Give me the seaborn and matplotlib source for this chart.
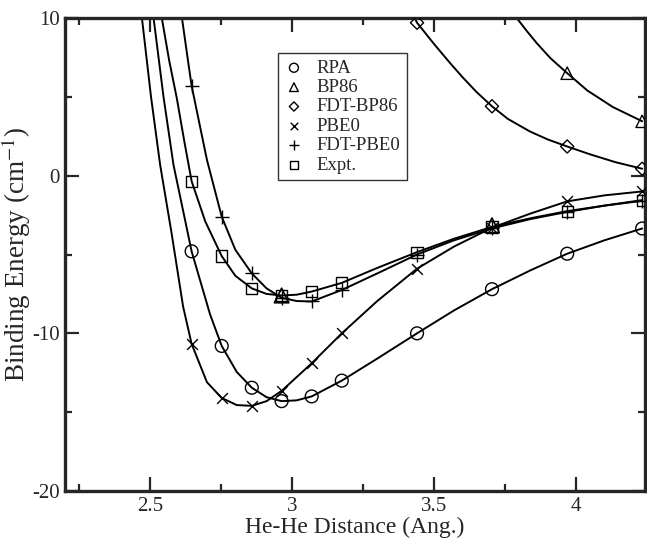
import numpy as np
import matplotlib
matplotlib.use('Agg')
import matplotlib.pyplot as plt
import seaborn as sns
from matplotlib.ticker import MultipleLocator

# He-He distances of the computed points (Ang.)
dist = [2.646, 2.752, 2.858, 2.963, 3.069, 3.175, 3.440, 3.704, 3.969, 4.233]

# Marker values (cm^-1)
rpa = [-4.8, -10.8, -13.45, -14.3, -14.0, -13.0, -10.0, -7.2, -4.95, -3.35]
pbe0 = [-10.67, -14.1, -14.6, -13.65, -11.9, -10.0, -5.9, -3.3, -1.63, -1.0]
fdt_pbe0 = [5.7, -2.6, -6.2, -7.75, -7.98, -7.25, -5.0, -3.35, -2.3, -1.6]
expt = [-0.35, -5.1, -7.15, -7.6, -7.35, -6.8, -4.85, -3.25, -2.25, -1.55]
bp86_x = [3.969, 4.233]
bp86 = [6.5, 3.45]
fdt_bp86_x = [3.440, 3.704, 3.969, 4.233]
fdt_bp86 = [9.7, 4.4, 1.85, 0.44]
tri_x = [2.963, 3.704]
tri_y = [-7.6, -3.15]

# Curve paths (markers plus points)
rpa_line_x = [2.512, 2.547, 2.582, 2.646, 2.711, 2.752, 2.805, 2.858, 2.91, 2.963,
              3.016, 3.069, 3.175, 3.30, 3.44, 3.57, 3.704, 3.84, 3.969, 4.10, 4.233]
rpa_line_y = [10.0, 5.0, 0.7, -4.8, -8.8, -10.8, -12.45, -13.45, -14.05, -14.3,
              -14.25, -14.0, -13.0, -11.6, -10.0, -8.55, -7.2, -6.0, -4.95, -4.1, -3.35]
pbe0_line_x = [2.471, 2.503, 2.535, 2.575, 2.616, 2.646, 2.70, 2.752, 2.805, 2.858,
               2.91, 2.963, 3.069, 3.175, 3.30, 3.44, 3.57, 3.704, 3.84, 3.969, 4.10, 4.233]
pbe0_line_y = [10.0, 5.0, 0.7, -3.6, -8.3, -10.67, -13.1, -14.1, -14.55, -14.6,
               -14.3, -13.65, -11.9, -10.0, -7.95, -5.9, -4.5, -3.3, -2.4, -1.63, -1.25, -1.0]
fdt_pbe0_line_x = [2.612, 2.63, 2.646, 2.70, 2.752, 2.80, 2.858, 2.91, 2.963, 3.016,
                   3.069, 3.175, 3.30, 3.44, 3.57, 3.704, 3.84, 3.969, 4.10, 4.233]
fdt_pbe0_line_y = [10.0, 7.7, 5.7, 1.0, -2.6, -4.7, -6.2, -7.15, -7.75, -7.95,
                   -7.98, -7.25, -6.2, -5.0, -4.1, -3.35, -2.75, -2.3, -1.9, -1.6]
expt_line_x = [2.541, 2.567, 2.594, 2.62, 2.646, 2.694, 2.752, 2.80, 2.858, 2.91,
               2.963, 3.016, 3.069, 3.175, 3.30, 3.44, 3.57, 3.704, 3.84, 3.969, 4.10, 4.233]
expt_line_y = [10.0, 7.3, 4.9, 2.2, -0.35, -2.9, -5.1, -6.35, -7.15, -7.5,
               -7.6, -7.55, -7.35, -6.8, -5.85, -4.85, -4.0, -3.25, -2.7, -2.25, -1.9, -1.55]
bp86_line_x = [3.791, 3.83, 3.862, 3.91, 3.969, 4.04, 4.13, 4.233]
bp86_line_y = [10.0, 9.1, 8.4, 7.45, 6.5, 5.4, 4.35, 3.45]
fdt_bp86_line_x = [3.432, 3.44, 3.50, 3.556, 3.60, 3.65, 3.704, 3.76, 3.838, 3.90,
                   3.969, 4.05, 4.14, 4.233]
fdt_bp86_line_y = [10.0, 9.7, 8.35, 7.15, 6.25, 5.3, 4.4, 3.6, 2.8, 2.3,
                   1.85, 1.35, 0.85, 0.44]

sns.set_style('ticks')
plt.rcParams['font.family'] = ['Liberation Serif', 'DejaVu Serif']
plt.rcParams['mathtext.fontset'] = 'stix'
plt.rcParams['axes.unicode_minus'] = False

fig = plt.figure(figsize=(6.47, 5.46), dpi=100)
ax = fig.add_axes([65 / 647, 1 - 491 / 546, 580 / 647, 473 / 546])

lines = [(rpa_line_x, rpa_line_y), (pbe0_line_x, pbe0_line_y),
         (fdt_pbe0_line_x, fdt_pbe0_line_y), (expt_line_x, expt_line_y),
         (bp86_line_x, bp86_line_y), (fdt_bp86_line_x, fdt_bp86_line_y)]
for lx, ly in lines:
    sns.lineplot(x=lx, y=ly, color='k', lw=1.4, sort=False, estimator=None, ax=ax)

h_rpa = sns.scatterplot(x=dist, y=rpa, marker='o', s=85, facecolors='none',
                        edgecolors='k', linewidth=1.0, ax=ax, zorder=3).collections[-1]
h_bp86 = sns.scatterplot(x=bp86_x, y=bp86, marker='^', s=80, facecolors='none',
                         edgecolors='k', linewidth=1.0, ax=ax, zorder=3).collections[-1]
sns.scatterplot(x=tri_x, y=tri_y, marker='^', s=110, facecolors='none',
                edgecolors='k', linewidth=1.2, ax=ax, zorder=3)
h_fdtbp = sns.scatterplot(x=fdt_bp86_x, y=fdt_bp86, marker='D', s=45, facecolors='none',
                          edgecolors='k', linewidth=1.0, ax=ax, zorder=3).collections[-1]
h_pbe0 = sns.scatterplot(x=dist, y=pbe0, marker='x', s=60, color='k',
                         linewidth=1.0, ax=ax, zorder=3).collections[-1]
h_fdtpbe = sns.scatterplot(x=dist, y=fdt_pbe0, marker='+', s=90, color='k',
                           linewidth=1.0, ax=ax, zorder=3).collections[-1]
h_expt = sns.scatterplot(x=dist, y=expt, marker='s', s=65, facecolors='none',
                         edgecolors='k', linewidth=1.0, ax=ax, zorder=3).collections[-1]

ax.set_xlim(2.2, 4.243)
ax.set_ylim(-20, 10)
ax.xaxis.set_minor_locator(MultipleLocator(0.25))
ax.yaxis.set_minor_locator(MultipleLocator(5))
ax.set_xticks([2.5, 3.0, 3.5, 4.0])
ax.set_xticklabels(['2.5', '3', '3.5', '4'])
ax.set_yticks([-20, -10, 0, 10])
ax.tick_params(which='both', direction='in', top=True, right=True, labelsize=15, width=1.6)
ax.tick_params(which='major', length=10, pad=4)
ax.tick_params(which='minor', length=5)
for sp in ax.spines.values():
    sp.set_linewidth(2.4)
    sp.set_visible(True)

ax.set_xlabel('He-He Distance (Ang.)', fontsize=17, labelpad=1)
ax.set_ylabel('Binding Energy (cm$^{-1}$)', fontsize=19.5)
ax.yaxis.set_label_coords(-0.056, 0.5)

leg = ax.legend([h_rpa, h_bp86, h_fdtbp, h_pbe0, h_fdtpbe, h_expt],
                ['RPA', 'BP86', 'FDT-BP86', 'PBE0', 'FDT-PBE0', 'Expt.'],
                loc='upper left', bbox_to_anchor=((278 - 65) / 580, 1 - (53 - 18) / 473),
                borderaxespad=0, fontsize=13.5, frameon=True, fancybox=False,
                borderpad=0.35, labelspacing=0.12, handlelength=1.0,
                handletextpad=0.7, markerscale=0.7)
leg.get_frame().set_edgecolor('k')
leg.get_frame().set_linewidth(1.0)

fig.savefig('out.png', dpi=100)
